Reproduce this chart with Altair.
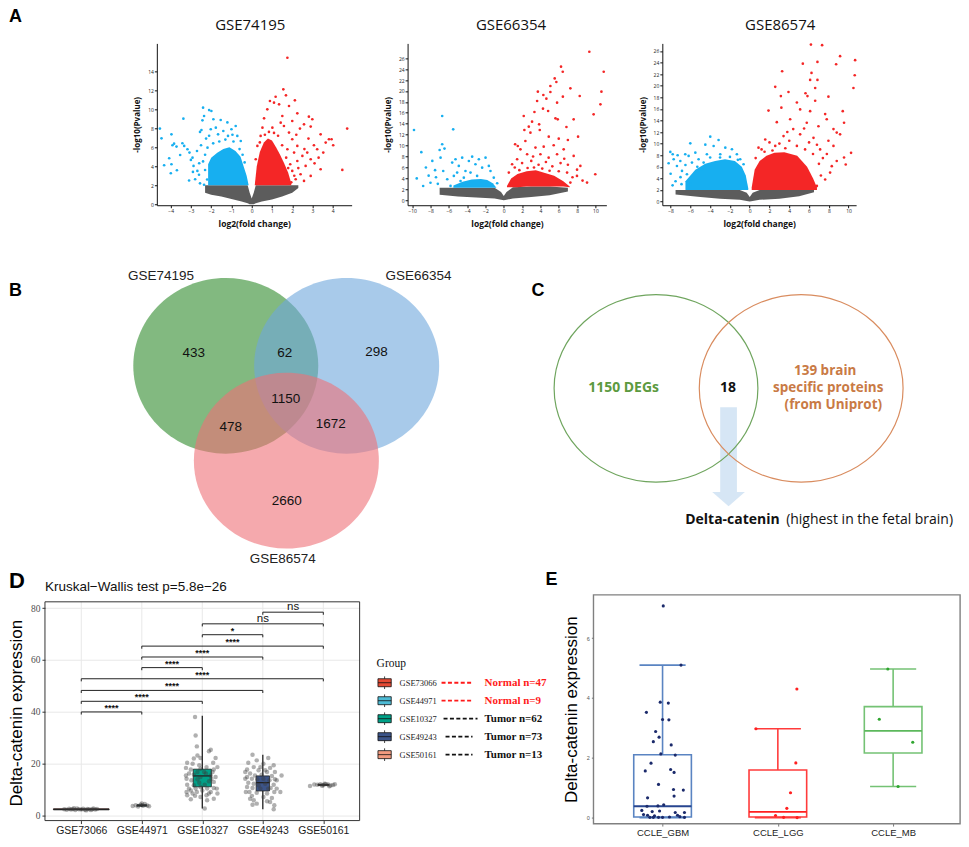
import altair as alt
import pandas as pd

SANS = "Liberation Sans"
OPEN = "Open Sans"
SERIF = "Liberation Serif"
BLUE = "#17aff0"
RED = "#f42626"
NSCOL = "#4a4a4a"

# ================= Panel A: volcano plots (log2FC, -log10 P) =================
V1_BLUE = [(-4.53,7.95),(-4.45,6.93),(-3.96,7.35),(-3.91,6.2),(-3.83,6.37),(-3.71,6.06),(-4.07,4.83),
           (-4.32,4.1),(-3.96,4.2),(-3.99,3.26),(-3.69,3.57),(-3.53,5.18),(-3.42,6.41),(-3.37,9.0),
           (-3.33,6.13),(-3.17,5.78),(-3.07,5.43),(-3.0,4.66),(-2.92,4.9),(-2.87,4.03),(-3.09,2.49),
           (-2.79,2.63),(-2.68,3.5),(-2.59,4.31),(-2.55,7.6),(-2.48,7.8),(-2.43,8.82),(-2.40,10.15),
           (-2.35,9.28),(-2.25,6.9),(-2.18,5.95),(-2.10,9.9),(-1.99,9.8),(-1.89,8.93),(-2.02,7.88),
           (-1.77,8.05),(-1.53,8.86),(-1.66,7.35),(-1.40,7.7),(-1.17,7.18),(-1.0,7.88),(-0.79,8.23),
           (-0.71,7.18),(-0.54,6.65),(-2.55,2.2),(-2.35,2.05),(-2.3,5.2),(-2.4,4.5),(-2.6,3.1),
           (-2.3,3.6),(-2.2,2.6),(-1.9,6.4),(-1.6,6.6),(-1.3,6.8),(-0.9,6.6),(-0.6,5.8),(-0.45,5.2),
           (-0.35,4.4),(-2.7,5.6),(-2.5,6.2),(-2.9,3.4),(-2.1,7.2),(-1.2,8.6),(-0.95,7.3)]
V1_RED = [(1.76,15.4),(1.56,12.08),(1.69,11.45),(1.18,11.3),(2.13,10.92),(0.90,10.85),(1.10,10.68),
          (1.35,10.5),(1.84,10.33),(0.77,9.98),(2.25,9.56),(2.82,9.21),(2.99,8.93),(0.61,9.03),
          (1.51,9.28),(2.0,8.75),(2.58,8.4),(2.91,8.16),(2.38,7.95),(4.71,7.95),(3.40,7.35),(3.81,6.83),
          (3.94,6.83),(3.65,6.48),(4.02,6.2),(3.07,6.2),(3.23,5.78),(2.74,5.43),(3.53,5.43),(2.50,5.08),
          (2.91,4.73),(2.25,4.55),(2.66,4.03),(3.40,3.68),(4.47,3.61),(2.0,3.5),(2.41,3.15),(2.91,2.98),
          (2.17,2.63),(2.58,2.45),(1.84,7.53),(1.59,8.23),(2.0,6.83),(2.25,6.13),(1.76,5.78),(2.09,5.43),
          (1.43,8.58),(1.02,8.05),(0.53,8.05),(0.44,7.18),(0.28,6.13),(0.20,4.73),(1.9,4.2),(2.1,3.0),
          (1.95,2.3),(1.7,4.9),(1.5,6.2),(1.3,7.2),(1.1,7.5),(0.85,7.6),(0.65,7.3),(0.4,6.5),(1.6,3.2),
          (1.8,3.8),(2.3,3.8),(2.6,5.8),(3.1,4.3),(2.8,6.9),(3.3,4.9),(2.2,7.3)]
# dense cores: x, upper edge, lower edge
V1_CORE_BLUE = ([-2.15,-2.0,-1.7,-1.4,-1.1,-0.8,-0.55,-0.4,-0.25,-0.15],
                [4.2,4.9,5.4,5.8,6.0,5.6,5.0,4.0,3.0,2.0],
                [2.0,2.0,2.0,2.0,2.0,2.0,2.0,2.0,2.0,2.0])
V1_CORE_RED = ([0.15,0.25,0.4,0.6,0.8,1.0,1.2,1.4,1.6,1.8,1.95],
               [2.0,4.0,5.5,6.5,6.9,6.7,6.0,5.2,4.3,3.3,2.2],
               [2.0,2.0,2.0,2.0,2.0,2.0,2.0,2.0,2.0,2.0,2.0])
V1_CORE_NS = ([-2.3,-2.0,-1.5,-1.0,-0.5,-0.2,-0.1,0.0,0.1,0.2,0.5,1.0,1.5,2.0,2.3],
              [2.0,2.0,2.0,2.0,2.0,2.0,1.2,0.6,1.2,2.0,2.0,2.0,2.0,2.0,2.0],
              [1.2,1.0,0.8,0.55,0.3,0.1,0.0,0.0,0.0,0.1,0.3,0.5,0.8,1.2,1.7])

V2_BLUE = [(-6.72,15.42),(-5.52,12.98),(-6.72,10.24),(-6.47,9.45),(-6.9,7.8),(-6.61,5.36),(-6.17,3.84),
           (-5.63,6.89),(-5.27,7.5),(-4.91,6.28),(-4.54,7.8),(-4.18,5.36),(-3.81,7.19),(-3.45,7.98),
           (-3.63,5.06),(-3.09,6.58),(-2.72,7.5),(-2.36,5.97),(-1.99,7.8),(-1.63,6.28),(-1.45,5.36),
           (-5.45,4.45),(-4.72,3.53),(-5.81,2.62),(-5.09,5.06),(-2.91,4.45),(-4.36,4.14),(-1.09,4.14),
           (-0.72,3.11),(-9.8,12.85),(-9.0,8.8),(-8.5,6.0),(-8.2,4.5),(-7.8,7.2),(-7.5,5.5),(-7.2,3.0),
           (-8.8,2.6),(-7.0,9.2),(-9.5,4.0),(-8.0,3.2),(-7.4,4.2)]
V2_RED = [(9.34,27.18),(6.25,24.44),(6.44,23.52),(10.91,23.52),(5.56,22.3),(5.74,21.63),(5.09,20.9),
          (7.27,20.48),(3.72,19.87),(5.09,19.8),(10.66,19.87),(6.45,18.95),(4.32,19.26),(8.29,19.07),
          (3.64,18.16),(4.65,18.59),(5.82,17.86),(10.55,17.55),(4.28,16.76),(4.84,16.33),(3.35,16.15),
          (2.18,15.42),(9.81,15.72),(5.64,14.99),(5.89,14.81),(3.09,14.38),(7.63,14.81),(3.86,13.89),
          (2.73,13.47),(2.25,12.86),(6.84,13.41),(2.91,12.37),(3.93,12.86),(7.0,11.03),(4.91,11.64),
          (6.0,11.27),(8.11,11.64),(2.36,10.85),(1.53,9.93),(1.24,10.24),(1.82,9.32),(3.46,9.63),
          (4.36,9.81),(5.45,10.06),(6.54,9.32),(2.55,8.41),(4.0,8.41),(5.82,8.41),(7.63,8.11),(8.36,6.28),
          (9.99,4.75),(9.09,3.23),(7.99,4.45),(7.27,3.23),(6.91,5.06),(1.46,7.5),(0.91,6.58),(0.55,5.06),
          (1.2,6.0),(2.0,6.8),(3.0,7.2),(3.8,6.5),(4.6,7.0),(5.3,6.2),(6.2,6.8),(7.0,6.5),(2.6,5.9),
          (4.2,5.8),(5.0,5.4),(6.0,5.3),(7.5,4.2),(8.6,3.6),(3.3,6.0),(1.7,5.5),(8.0,5.6),(6.6,7.6),
          (4.9,7.8),(3.2,8.0)]
V2_CORE_BLUE = ([-5.5,-4.5,-3.5,-2.5,-1.8,-1.2,-0.8],
                [2.7,3.4,3.8,3.9,3.7,3.1,2.3],
                [2.3,2.3,2.3,2.3,2.3,2.3,2.3])
V2_CORE_RED = ([0.35,0.8,1.5,2.5,3.5,4.5,5.5,6.5,7.2],
               [2.6,4.0,4.8,5.3,5.5,5.0,4.5,3.5,2.5],
               [2.4,2.4,2.4,2.5,2.5,2.5,2.5,2.5,2.4])
V2_CORE_NS = ([-7.0,-5.0,-3.0,-1.0,-0.3,0.0,0.3,1.0,3.0,5.0,7.0],
              [2.3,2.3,2.3,2.3,1.5,0.8,1.5,2.4,2.5,2.5,2.3],
              [1.0,0.7,0.5,0.3,0.1,0.0,0.1,0.3,0.6,0.9,1.6])

V3_BLUE = [(-8.03,8.56),(-7.79,8.16),(-7.69,7.29),(-8.2,6.6),(-7.36,6.14),(-7.29,7.98),(-7.02,7.0),
           (-6.52,8.16),(-6.18,7.87),(-6.01,10.05),(-6.85,5.28),(-6.35,4.71),(-5.84,6.72),(-5.5,8.44),
           (-5.17,7.29),(-3.99,11.2),(-3.15,10.63),(-4.49,9.82),(-3.65,9.59),(-2.47,9.3),(-1.80,9.02),
           (-1.30,8.16),(-2.98,8.16),(-4.33,8.16),(-0.96,7.29),(-0.62,6.43),(-4.66,6.72),(-4.83,5.57),
           (-7.5,3.5),(-7.0,4.2),(-8.0,4.8),(-7.8,2.8),(-6.9,3.0),(-6.5,6.3),(-5.3,6.0),(-4.0,7.6),
           (-3.0,7.6),(-2.0,7.7),(-1.2,7.2),(-6.0,3.0)]
V3_RED = [(6.19,27.1),(7.32,27.0),(9.14,25.1),(10.66,24.4),(5.37,23.8),(6.85,24.1),(8.74,23.7),
          (3.28,22.5),(6.25,22.2),(10.62,21.8),(6.11,21.0),(6.85,21.0),(2.58,19.8),(10.49,19.6),
          (3.92,18.9),(5.64,18.7),(6.62,19.6),(5.84,18.2),(7.96,18.1),(3.15,18.2),(4.77,17.1),(6.62,17.4),
          (1.9,15.7),(3.2,16.2),(5.1,15.9),(6.11,15.6),(7.63,15.1),(9.41,15.6),(9.54,13.6),(7.79,14.2),
          (2.74,13.7),(4.09,14.2),(5.77,13.6),(6.95,13.0),(8.47,12.5),(8.8,11.9),(9.14,11.6),(1.57,10.7),
          (3.42,11.3),(5.1,11.6),(6.45,11.0),(7.96,10.5),(8.47,9.6),(0.89,9.3),(2.58,9.6),(4.77,9.6),
          (7.12,9.0),(10.25,8.4),(9.54,7.6),(9.71,6.4),(8.3,6.1),(8.13,5.0),(7.63,3.8),(6.79,2.7),
          (1.2,9.0),(2.0,10.2),(3.0,10.0),(4.0,10.5),(4.4,12.5),(5.5,12.6),(6.0,10.2),(6.8,9.8),(7.4,7.5),
          (7.0,6.5),(7.8,8.2),(3.6,9.2),(2.3,8.8),(5.6,9.0),(6.4,8.2),(8.8,7.0),(7.2,4.5),(0.6,7.5),
          (1.5,8.6),(3.8,12.0)]
V3_CORE_BLUE = ([-6.5,-5.5,-4.5,-3.5,-2.5,-1.5,-0.8,-0.4,-0.15],
                [3.5,5.5,6.5,7.0,7.3,7.0,6.0,4.5,2.3],
                [2.0,2.0,2.0,2.0,2.0,2.0,2.0,2.0,2.0])
V3_CORE_RED = ([0.2,0.5,1.0,1.7,2.5,3.5,4.8,5.8,6.4,6.8],
               [2.4,5.5,7.0,7.9,8.4,8.5,7.9,6.0,4.0,2.4],
               [2.0,2.0,2.0,2.0,2.0,2.0,2.0,2.0,2.0,2.0])
V3_CORE_NS = ([-7.5,-5.0,-3.0,-1.0,-0.3,0.0,0.3,1.0,3.0,5.0,6.5],
              [2.0,2.0,2.0,2.0,1.5,0.8,1.5,2.0,2.0,2.0,2.0],
              [1.2,0.8,0.5,0.3,0.1,0.0,0.1,0.3,0.5,0.9,1.6])

# ================= Panel B / C: Venn diagrams =================
VENN_B_SETS = ["GSE74195", "GSE66354", "GSE86574"]
VENN_B_CX = [0.0, 1.307, 0.655]
VENN_B_CY = [0.0, 0.0, -1.08]
VENN_B_SET_LX = [-0.70, 2.084, 0.616]
VENN_B_SET_LY = [1.02, 1.02, -2.20]
VENN_B_COUNTS = ["433", "62", "298", "1150", "478", "1672", "2660"]
VENN_B_CNT_X = [-0.346, 0.637, 1.63, 0.648, 0.054, 1.134, 0.659]
VENN_B_CNT_Y = [0.144, 0.144, 0.156, -0.378, -0.697, -0.662, -1.54]

VENN_C_SETS = ["DEGs", "Uniprot"]
VENN_C_CX = [0.0, 1.4245]
VENN_C_CY = [0.0, 0.0]

# ================= Panel D: boxplots =================
D_GROUPS = ["GSE73066", "GSE44971", "GSE10327", "GSE49243", "GSE50161"]
D_KIND = ["Normal", "Normal", "Tumor", "Tumor", "Tumor"]
D_N = [47, 9, 62, 73, 13]
D_Q1 = [2.1, 3.5, 11.0, 9.4, 11.5]
D_MED = [2.3, 3.8, 15.2, 12.6, 11.8]
D_Q3 = [2.5, 4.1, 17.8, 15.2, 12.0]
D_WLO = [1.9, 3.2, 2.6, 2.3, 11.2]
D_WHI = [2.7, 4.6, 38.4, 23.4, 12.2]
D_PTS_73066 = [(-0.28,2.3),(-0.24,2.1),(-0.2,2.5),(-0.17,2.2),(-0.14,2.4),(-0.1,2.0),(-0.07,2.6),(-0.04,2.3),
               (0.0,2.2),(0.03,2.5),(0.06,2.1),(0.1,2.4),(0.13,2.3),(0.16,2.0),(0.2,2.6),(0.23,2.2),
               (0.26,2.4),(-0.12,2.7),(0.08,1.9),(0.18,2.3)]
D_PTS_44971 = [(-0.15,3.6),(-0.1,3.9),(-0.06,3.4),(-0.02,4.1),(0.02,3.7),(0.05,4.4),(0.09,3.8),(0.12,3.5),(0.0,4.6)]
D_PTS_10327 = [(-0.12,37.9),(-0.11,30.8),(-0.09,26.6),(0.14,25.3),(0.11,24.7),(-0.08,23.1),(-0.25,20.3),
               (-0.16,19.9),(0.18,20.3),(-0.27,18.3),(-0.19,17.7),(-0.03,18.0),(0.19,17.7),(-0.22,16.1),
               (-0.14,15.7),(0.06,16.1),(0.14,15.4),(0.22,14.8),(-0.26,14.1),(-0.18,13.5),(-0.08,13.9),
               (0.11,13.1),(0.19,12.9),(-0.25,11.8),(-0.14,11.6),(-0.03,10.9),(0.08,10.3),(0.19,10.5),
               (-0.19,9.6),(-0.09,9.0),(0.14,9.0),(-0.25,7.7),(-0.16,8.4),(0.07,7.7),(0.19,6.4),(-0.19,6.2),
               (-0.03,7.1),(0.04,2.6),(-0.27,15.4),(-0.03,14.8),(0.03,16.7),(-0.05,19.3),(0.25,18.6),
               (0.24,10.3),(-0.11,10.3),(0.11,8.4),(0.0,9.6),(-0.22,10.3),(0.07,18.6),(-0.08,16.7),
               (0.17,16.7),(-0.14,21.9),(0.15,14.1),(-0.05,12.6),(0.04,11.8),(-0.26,9.0),(0.25,8.4),
               (-0.12,7.5),(0.08,5.8),(-0.03,22.1),(0.22,22.1)]
D_PTS_49243 = [(-0.17,23.4),(0.09,22.1),(-0.10,21.2),(0.18,19.3),(-0.24,20.3),(0.01,19.9),(-0.15,18.6),
               (0.12,18.3),(-0.26,17.7),(-0.07,17.4),(0.07,16.7),(0.2,16.7),(-0.21,16.1),(-0.13,15.4),
               (-0.02,15.7),(0.15,15.2),(-0.26,14.8),(-0.18,14.1),(-0.09,13.9),(0.11,13.5),(0.2,13.9),
               (-0.24,12.6),(-0.15,12.2),(0.04,12.2),(0.18,11.8),(-0.26,10.9),(-0.17,10.5),(-0.04,10.3),
               (0.13,10.5),(0.23,10.3),(-0.22,9.0),(-0.1,8.7),(0.07,8.4),(0.19,9.0),(-0.18,7.5),(0.01,7.1),
               (0.15,6.7),(-0.15,5.8),(0.07,5.4),(-0.1,4.5),(0.19,3.9),(-0.17,4.1),(0.18,2.3),(-0.29,14.1),
               (0.01,14.1),(0.31,15.4),(-0.04,18.6),(-0.28,9.0),(0.29,9.0),(-0.07,11.6),(0.09,10.3),
               (-0.29,16.7),(0.04,17.4),(0.23,13.5),(-0.21,6.4),(0.12,5.1)]
D_PTS_50161 = [(-0.22,11.3),(-0.1,11.8),(-0.05,12.0),(0.0,11.6),(0.04,12.1),(0.08,11.9),(0.12,11.5),
               (0.16,11.7),(0.19,12.0),(-0.15,11.9),(0.02,12.2),(0.1,11.2),(-0.02,11.4)]
D_BRACKETS = [(1,2,39.9,"****"),(1,3,44.0,"****"),(1,4,48.2,"****"),(1,5,52.7,"****"),(2,3,57.0,"****"),
              (2,4,61.1,"****"),(2,5,65.3,"****"),(3,4,69.7,"*"),(3,5,73.9,"ns"),(4,5,78.4,"ns")]

# ================= Panel E: CCLE boxplots =================
E_GROUPS = ["CCLE_GBM", "CCLE_LGG", "CCLE_MB"]
E_Q1 = [0.02, 0.02, 2.16]
E_MED = [0.38, 0.19, 2.9]
E_Q3 = [2.1, 1.59, 3.71]
E_WLO = [0.0, 0.0, 1.04]
E_WHI = [5.1, 2.97, 4.97]
E_PTS_GBM = [(0.006,7.08),(0.16,5.1),(-0.02,3.86),(0.05,3.83),(-0.14,3.52),(0.0,3.28),(0.055,3.27),
             (-0.06,2.88),(-0.03,2.69),(-0.08,2.54),(0.075,2.43),(-0.015,2.13),(0.11,2.09),(-0.10,1.82),
             (0.07,1.61),(-0.15,1.56),(0.10,1.51),(-0.035,1.11),(0.095,0.94),(0.18,0.92),(0.10,0.72),
             (-0.13,0.66),(-0.135,0.38),(-0.04,0.39),(0.01,0.43),(-0.18,0.24),(-0.09,0.2),(-0.026,0.22),
             (0.11,0.17),(0.19,0.17),(-0.165,0.1),(-0.13,0.08),(-0.07,0.06),(0.13,0.08),(-0.11,0.01),
             (-0.08,0.01),(-0.035,0.01),(0.0,0.01),(0.06,0.02),(0.15,0.03),(0.19,0.01)]
E_PTS_LGG = [(-0.19,2.97),(0.165,4.3),(0.156,1.83),(0.11,0.83),(0.078,0.31),(-0.02,0.07),(0.05,0.01),(0.167,0.0)]
E_PTS_MB = [(-0.046,4.97),(-0.12,3.29),(0.17,2.52),(0.043,1.04)]

# ----------------- styles -----------------
VENN_B_FILLS = ["#2f8a2b", "#6ea6dc", "#ef6f76"]
VENN_C_STROKES = ["#6fa55e", "#d98c5f"]
D_COLORS = ["#E64B35", "#4DBBD5", "#00A087", "#3C5488", "#F39B7F"]
E_STROKES = ["#5a84c2", "#ff3b3b", "#74c274"]
E_MEDIANS = ["#27458f", "#ff2020", "#5cb85c"]
E_DOTS = ["#1b2a6b", "#ff2020", "#2fa52f"]
D_BOX_HALF = [0.46, 0.08, 0.15, 0.11, 0.09]
ELLIPSE_B = "M -1 0 A 1 0.95 0 1 1 1 0 A 1 0.95 0 1 1 -1 0 Z"
ELLIPSE_C = "M -1 0 A 1 0.92 0 1 1 1 0 A 1 0.92 0 1 1 -1 0 Z"
ARROW_HEAD = "M -1 -0.44 L 1 -0.44 L 0 0.44 Z"
BOX_KEY = "M -1 -0.6 L 1 -0.6 L 1 0.6 L -1 0.6 Z M -1 0 L 1 0 M 0 -0.6 L 0 -0.95 M 0 0.6 L 0 0.95"
GAP = 28          # invisible layout guides above / below each row
RESOLVE = dict(color="independent", fill="independent", stroke="independent")


def pairs_df(p):
    return pd.DataFrame(p, columns=["x", "y"])


def area_df(a):
    return pd.DataFrame({"x": a[0], "y": a[1], "y2": a[2]})


def letter(ch, px, py, size=18):
    return alt.Chart(pd.DataFrame({"t": [ch]})).mark_text(
        font=SANS, fontSize=size, fontWeight="bold", align="left", baseline="top", color="#000"
    ).encode(x=alt.value(px), y=alt.value(py), text="t:N")


def guide(py, px=-36):
    # invisible layout guide that fixes the vertical extent of a row
    return alt.Chart(pd.DataFrame({"t": [0]})).mark_rule(opacity=0, strokeWidth=1).encode(
        x=alt.value(px), x2=alt.value(px + 1), y=alt.value(py))


def volcano(title, tdx, xdom, ydom, xticks, yticks, w, h, blue, red, cb, cr, cn):
    X = alt.X("x:Q", scale=alt.Scale(domain=xdom, nice=False, zero=False),
              axis=alt.Axis(values=xticks, title="log2(fold change)", grid=False, labelFont=OPEN,
                            labelFontSize=5, labelColor="#222", labelPadding=1, labelFlush=False,
                            labelOverlap=False, tickSize=2.5, tickColor="#111", domainColor="#111",
                            titleFont=OPEN, titleFontSize=8.5, titleFontWeight="bold",
                            titleColor="#111", titlePadding=6))
    Y = alt.Y("y:Q", scale=alt.Scale(domain=ydom, nice=False, zero=False),
              axis=alt.Axis(values=yticks, title="-log10(Pvalue)", grid=False, labelFont=OPEN,
                            labelFontSize=5, labelColor="#222", labelPadding=1, labelFlush=False,
                            labelOverlap=False, tickSize=2.5, tickColor="#111", domainColor="#111",
                            titleFont=OPEN, titleFontSize=8, titleFontWeight="bold",
                            titleColor="#111", titlePadding=6))
    Y2 = alt.Y2("y2:Q")
    layers = [
        alt.Chart(area_df(cn)).mark_area(color=NSCOL, opacity=0.9).encode(X, Y, Y2),
        alt.Chart(area_df(cb)).mark_area(color=BLUE).encode(X, Y, Y2),
        alt.Chart(area_df(cr)).mark_area(color=RED).encode(X, Y, Y2),
        alt.Chart(pairs_df(blue)).mark_circle(size=7, color=BLUE, opacity=1).encode(X, Y),
        alt.Chart(pairs_df(red)).mark_circle(size=7, color=RED, opacity=1).encode(X, Y),
    ]
    return alt.layer(*layers).properties(
        width=w, height=h,
        title=alt.TitleParams(title, font=OPEN, fontSize=15, fontWeight="normal", color="#111",
                              offset=10, dx=tdx))


H1 = 162
spacerA = alt.layer(letter("A", -36, -35), guide(H1 + GAP)).properties(width=56, height=H1)
v1 = volcano("GSE74195", -4, [-4.68, 4.93], [-0.105, 16.91], list(range(-4, 5)), list(range(0, 15, 2)),
             195, H1, V1_BLUE, V1_RED, V1_CORE_BLUE, V1_CORE_RED, V1_CORE_NS)
v2 = volcano("GSE66354", 4, [-10.5, 11.2], [-0.91, 28.7], list(range(-10, 11, 2)), list(range(0, 27, 2)),
             199, H1, V2_BLUE, V2_RED, V2_CORE_BLUE, V2_CORE_RED, V2_CORE_NS)
v3 = volcano("GSE86574", 21, [-8.84, 10.76], [-0.64, 27.3], list(range(-8, 11, 2)), list(range(0, 27, 2)),
             194, H1, V3_BLUE, V3_RED, V3_CORE_BLUE, V3_CORE_RED, V3_CORE_NS)
row1 = alt.hconcat(spacerA, v1, v2, v3, spacing=56, bounds="flush").resolve_scale(**RESOLVE)

# ----------------- B -----------------
H2 = 278
XB = alt.X("x:Q", scale=alt.Scale(domain=[-1.955, 2.646], nice=False, zero=False), axis=None)
YB = alt.Y("y:Q", scale=alt.Scale(domain=[-1.969, 1.19], nice=False, zero=False), axis=None)
b_circ = alt.Chart(pd.DataFrame({"s": VENN_B_SETS, "x": VENN_B_CX, "y": VENN_B_CY})).mark_point(
    shape=ELLIPSE_B, size=34299, filled=True, opacity=0.6, strokeWidth=0
).encode(XB, YB, color=alt.Color("s:N", scale=alt.Scale(domain=VENN_B_SETS, range=VENN_B_FILLS), legend=None))
b_sets = alt.Chart(pd.DataFrame({"t": VENN_B_SETS, "x": VENN_B_SET_LX, "y": VENN_B_SET_LY})).mark_text(
    font=SANS, fontSize=13.5, color="#222").encode(XB, YB, text="t:N")
b_cnt = alt.Chart(pd.DataFrame({"t": VENN_B_COUNTS, "x": VENN_B_CNT_X, "y": VENN_B_CNT_Y})).mark_text(
    font=SANS, fontSize=13.5, color="#111").encode(XB, YB, text="t:N")
chartB = alt.layer(b_circ, b_sets, b_cnt, letter("B", -36, 21), guide(-GAP), guide(H2 + GAP)).properties(
    width=426, height=H2)

# ----------------- C -----------------
XC = alt.X("x:Q", scale=alt.Scale(domain=[-1.330, 2.983], nice=False, zero=False), axis=None)
YC = alt.Y("y:Q", scale=alt.Scale(domain=[-1.603, 1.354], nice=False, zero=False), axis=None)
c_arrow = alt.Chart(pd.DataFrame({"x": [0.630], "x2": [0.794], "y": [-0.202], "y2": [-1.103]})).mark_rect(
    color="#d6e6f5").encode(XC, alt.X2("x2:Q"), YC, alt.Y2("y2:Q"))
c_head = alt.Chart(pd.DataFrame({"x": [0.712], "y": [-1.18]})).mark_point(
    shape=ARROW_HEAD, size=1063, filled=True, color="#d6e6f5", opacity=1, strokeWidth=0).encode(XC, YC)
c_circ = alt.Chart(pd.DataFrame({"s": VENN_C_SETS, "x": VENN_C_CX, "y": VENN_C_CY})).mark_point(
    shape=ELLIPSE_C, size=41616, filled=False, strokeWidth=1.2, opacity=1
).encode(XC, YC, color=alt.Color("s:N", scale=alt.Scale(domain=VENN_C_SETS, range=VENN_C_STROKES), legend=None))
c_t1 = alt.Chart(pd.DataFrame({"t": ["1150 DEGs"], "x": [-0.318], "y": [0.0]})).mark_text(
    font=OPEN, fontSize=14, fontWeight="bold", color="#5c9a40").encode(XC, YC, text="t:N")
c_t2 = alt.Chart(pd.DataFrame({"t": ["18"], "x": [0.706], "y": [0.0]})).mark_text(
    font=OPEN, fontSize=14, fontWeight="bold", color="#111").encode(XC, YC, text="t:N")
c_t3 = alt.Chart(pd.DataFrame({"t": ["139 brain", "specific proteins", "(from Uniprot)"],
                               "x": [1.66, 1.69, 1.74], "y": [0.184, 0.0, -0.18]})).mark_text(
    font=OPEN, fontSize=13.5, fontWeight="bold", color="#c97a45").encode(XC, YC, text="t:N")
c_t4 = alt.Chart(pd.DataFrame({"t": ["Delta-catenin"], "x": [0.287], "y": [-1.398]})).mark_text(
    font=OPEN, fontSize=14, fontWeight="bold", color="#111", align="left").encode(XC, YC, text="t:N")
c_t5 = alt.Chart(pd.DataFrame({"t": ["(highest in the fetal brain)"], "x": [1.277], "y": [-1.398]})).mark_text(
    font=OPEN, fontSize=14, color="#111", align="left").encode(XC, YC, text="t:N")
chartC = alt.layer(c_arrow, c_head, c_circ, c_t1, c_t2, c_t3, c_t4, c_t5, letter("C", 11, 21)).properties(
    width=440, height=H2)
row2 = alt.hconcat(chartB, chartC, spacing=50, bounds="flush").resolve_scale(**RESOLVE)

# ----------------- D -----------------
H3 = 229
D_XDOM = [0.4, 5.6]
D_YBOT, D_YFRAME, D_YTOP = -2.04, 82.4, 85.1   # frame top sits 7 px below the row top
d_label_expr = "[" + ",".join("'%s'" % g for g in D_GROUPS) + "][datum.value - 1]"
DXS = alt.Scale(domain=D_XDOM, nice=False, zero=False)
DYS = alt.Scale(domain=[D_YBOT, D_YTOP], nice=False, zero=False)
DXA = alt.Axis(values=[1, 2, 3, 4, 5], labelExpr=d_label_expr, title=None, grid=False,
               labelFont=SANS, labelFontSize=10.5, labelColor="#1a1a1a", tickSize=3, tickColor="#333",
               domain=False, labelPadding=2, labelFlush=False)
DYA = alt.Axis(values=[0, 20, 40, 60, 80], title="Delta-catenin expression", grid=True, gridColor="#e8e8e8",
               labelFont=SERIF, labelFontSize=9.5, labelColor="#4d4d4d", tickSize=3, tickColor="#333",
               domain=False, titleFont=SANS, titleFontSize=17, titleFontWeight="normal",
               titleColor="#000", titlePadding=4.5, titleY=118)


def DX(f):
    return alt.X(f, type="quantitative", scale=DXS, axis=DXA)


def DY(f):
    return alt.Y(f, type="quantitative", scale=DYS, axis=DYA)


d_box = pd.DataFrame({"g": D_GROUPS, "q1": D_Q1, "med": D_MED, "q3": D_Q3, "lo": D_WLO, "hi": D_WHI})
d_box["xc"] = range(1, len(D_GROUPS) + 1)
d_box["xa"] = d_box["xc"] - pd.Series(D_BOX_HALF)
d_box["xb"] = d_box["xc"] + pd.Series(D_BOX_HALF)
d_box["gb"] = D_YBOT
d_box["gt"] = D_YFRAME

d_pts_parts = []
for i, p in enumerate([D_PTS_73066, D_PTS_44971, D_PTS_10327, D_PTS_49243, D_PTS_50161]):
    t = pd.DataFrame(p, columns=["dx", "y"])
    t["px"] = (i + 1) + t["dx"]
    d_pts_parts.append(t)
d_pts = pd.concat(d_pts_parts, ignore_index=True)

d_br = pd.DataFrame(D_BRACKETS, columns=["a", "b", "h", "lab"])
d_br["mid"] = (d_br["a"] + d_br["b"]) / 2
d_br["tip"] = d_br["h"] - 1.0
d_br_ast = d_br[d_br["lab"] != "ns"]
d_br_ns = d_br[d_br["lab"] == "ns"]
d_frame_df = pd.DataFrame({"x1": [D_XDOM[0]], "x2": [D_XDOM[1]], "y1": [D_YBOT], "y2": [D_YFRAME]})

d_vgrid = alt.Chart(d_box).mark_rule(color="#e8e8e8", strokeWidth=1).encode(DX("xc"), DY("gb"), alt.Y2("gt"))
d_whisk = alt.Chart(d_box).mark_rule(color="#222", strokeWidth=1.3).encode(DX("xc"), DY("lo"), alt.Y2("hi"))
d_rect = alt.Chart(d_box).mark_rect(stroke="#222", strokeWidth=0.8).encode(
    DX("xa"), alt.X2("xb"), DY("q1"), alt.Y2("q3"),
    fill=alt.Fill("g:N", scale=alt.Scale(domain=D_GROUPS, range=D_COLORS), legend=None))
d_med = alt.Chart(d_box).mark_rule(color="#222", strokeWidth=1.3).encode(DX("xa"), alt.X2("xb"), DY("med"))
d_dots = alt.Chart(d_pts).mark_circle(size=20, color="#3a3a3a", opacity=0.4).encode(DX("px"), DY("y"))
d_hbar = alt.Chart(d_br).mark_rule(color="#222", strokeWidth=1).encode(DX("a"), alt.X2("b"), DY("h"))
d_tipa = alt.Chart(d_br).mark_rule(color="#222", strokeWidth=1).encode(DX("a"), DY("tip"), alt.Y2("h"))
d_tipb = alt.Chart(d_br).mark_rule(color="#222", strokeWidth=1).encode(DX("b"), DY("tip"), alt.Y2("h"))
d_ast = alt.Chart(d_br_ast).mark_text(font=SANS, fontSize=9, fontWeight="bold", color="#111",
                                      baseline="alphabetic", dy=-1).encode(DX("mid"), DY("h"), text="lab:N")
d_ns = alt.Chart(d_br_ns).mark_text(font=SANS, fontSize=11.5, color="#111",
                                    baseline="alphabetic", dy=-2).encode(DX("mid"), DY("h"), text="lab:N")
d_frame = alt.Chart(d_frame_df).mark_rect(filled=False, stroke="#333", strokeWidth=1).encode(
    DX("x1"), alt.X2("x2"), DY("y1"), alt.Y2("y2"))
chartD = alt.layer(d_vgrid, d_whisk, d_rect, d_med, d_dots, d_hbar, d_tipa, d_tipb, d_ast, d_ns,
                   d_frame).properties(
    width=315, height=226,
    title=alt.TitleParams("Kruskal\u2212Wallis test p=5.8e\u221226", anchor="start", frame="group",
                          font=SANS, fontSize=13.5, fontWeight="normal", color="#111", offset=1))

# ----------------- legend of D (also carries the panel letter D) -----------------
leg_df = pd.DataFrame({"g": D_GROUPS, "kind": D_KIND,
                       "note": ["%s n=%d" % (k, n) for k, n in zip(D_KIND, D_N)]})
LY = alt.Y("g:N", scale=alt.Scale(type="point", domain=D_GROUPS, range=[88, 160], padding=0), axis=None)
KCOL = alt.condition(alt.datum.kind == "Normal", alt.value("#ff1a1a"), alt.value("#111111"))
leg_head = alt.Chart(pd.DataFrame({"t": ["Group"]})).mark_text(
    font=SERIF, fontSize=11.5, align="left", baseline="middle", color="#111").encode(
    x=alt.value(7), y=alt.value(69), text="t:N")
leg_key = alt.Chart(leg_df).mark_point(shape=BOX_KEY, size=177, filled=True, stroke="#111",
                                       strokeWidth=0.8, opacity=1).encode(
    x=alt.value(15), y=LY, fill=alt.Fill("g:N", scale=alt.Scale(domain=D_GROUPS, range=D_COLORS), legend=None))
leg_lab = alt.Chart(leg_df).mark_text(font=SERIF, fontSize=8.5, align="left", baseline="middle",
                                      color="#222").encode(x=alt.value(30), y=LY, text="g:N")
leg_dash1 = alt.Chart(leg_df).transform_filter(alt.datum.kind == "Normal").mark_rule(
    strokeWidth=1.8, strokeDash=[4, 2.4]).encode(x=alt.value(72), x2=alt.value(104), y=LY, color=KCOL)
leg_dash2 = alt.Chart(leg_df).transform_filter(alt.datum.g == "GSE10327").mark_rule(
    strokeWidth=1.8, strokeDash=[4, 2.4]).encode(x=alt.value(74), x2=alt.value(108), y=LY, color=KCOL)
leg_dash3 = alt.Chart(leg_df).transform_filter(
    (alt.datum.g == "GSE49243") | (alt.datum.g == "GSE50161")).mark_rule(
    strokeWidth=1.8, strokeDash=[4, 2.4]).encode(x=alt.value(76), x2=alt.value(103), y=LY, color=KCOL)
leg_note = alt.Chart(leg_df).mark_text(font=SERIF, fontSize=11, fontWeight="bold", align="left",
                                       baseline="middle").encode(x=alt.value(115), y=LY, text="note:N", color=KCOL)
chartLeg = alt.layer(leg_head, leg_key, leg_lab, leg_dash1, leg_dash2, leg_dash3, leg_note,
                     letter("D", -361, -24, size=22), guide(-GAP, px=0)).properties(width=214, height=H3)

# ----------------- E -----------------
e_label_expr = "[" + ",".join("'%s'" % g for g in E_GROUPS) + "][datum.value - 1]"
EXS = alt.Scale(domain=[0.4, 3.58], nice=False, zero=False)
EYS = alt.Scale(domain=[-0.2, 7.45], nice=False, zero=False)
EXA = alt.Axis(values=[1, 2, 3], labelExpr=e_label_expr, title=None, grid=False, labelFont=SANS,
               labelFontSize=9.5, labelColor="#222", tickSize=2.5, tickColor="#777", domain=False,
               labelPadding=1.5, labelFlush=False)
EYA = alt.Axis(values=[0, 2, 4, 6], title="Delta-catenin expression", grid=False, labelFont=SANS,
               labelFontSize=5.5, labelColor="#555", tickSize=2, tickColor="#777", domain=False,
               titleFont=SANS, titleFontSize=17, titleFontWeight="normal", titleColor="#000", titlePadding=6)


def EX(f):
    return alt.X(f, type="quantitative", scale=EXS, axis=EXA)


def EY(f):
    return alt.Y(f, type="quantitative", scale=EYS, axis=EYA)


e_box = pd.DataFrame({"g": E_GROUPS, "q1": E_Q1, "med": E_MED, "q3": E_Q3, "lo": E_WLO, "hi": E_WHI})
e_box["xc"] = range(1, len(E_GROUPS) + 1)
e_box["xa"] = e_box["xc"] - 0.25
e_box["xb"] = e_box["xc"] + 0.25
e_box["ca"] = e_box["xc"] - 0.2
e_box["cb"] = e_box["xc"] + 0.2
e_pts_parts = []
for i, p in enumerate([E_PTS_GBM, E_PTS_LGG, E_PTS_MB]):
    t = pd.DataFrame(p, columns=["dx", "y"])
    t["px"] = (i + 1) + t["dx"]
    t["g"] = E_GROUPS[i]
    e_pts_parts.append(t)
e_pts = pd.concat(e_pts_parts, ignore_index=True)

ESTROKE = alt.Stroke("g:N", scale=alt.Scale(domain=E_GROUPS, range=E_STROKES), legend=None)
e_up = alt.Chart(e_box).mark_rule(strokeWidth=1.6).encode(EX("xc"), EY("q3"), alt.Y2("hi"), stroke=ESTROKE)
e_dn = alt.Chart(e_box).mark_rule(strokeWidth=1.6).encode(EX("xc"), EY("lo"), alt.Y2("q1"), stroke=ESTROKE)
e_cap1 = alt.Chart(e_box).mark_rule(strokeWidth=1.6).encode(EX("ca"), alt.X2("cb"), EY("hi"), stroke=ESTROKE)
e_cap2 = alt.Chart(e_box).mark_rule(strokeWidth=1.6).encode(EX("ca"), alt.X2("cb"), EY("lo"), stroke=ESTROKE)
e_rect = alt.Chart(e_box).mark_rect(fillOpacity=0, strokeWidth=1.6).encode(
    EX("xa"), alt.X2("xb"), EY("q1"), alt.Y2("q3"), stroke=ESTROKE)
e_med = alt.Chart(e_box).mark_rule(strokeWidth=1.8).encode(
    EX("xa"), alt.X2("xb"), EY("med"),
    color=alt.Color("g:N", scale=alt.Scale(domain=E_GROUPS, range=E_MEDIANS), legend=None))
e_dots = alt.Chart(e_pts).mark_circle(size=10, opacity=1).encode(
    EX("px"), EY("y"), fill=alt.Fill("g:N", scale=alt.Scale(domain=E_GROUPS, range=E_DOTS), legend=None))
chartE = alt.layer(e_up, e_dn, e_cap1, e_cap2, e_rect, e_med, e_dots, letter("E", -48, -24)).properties(
    width=367, height=H3, view=alt.ViewBackground(stroke="#808080", strokeWidth=1.4))

row3 = alt.hconcat(chartD, chartLeg, chartE, spacing=10, bounds="flush").resolve_scale(**RESOLVE)

chart = alt.vconcat(row1, row2, row3, spacing=0).resolve_scale(**RESOLVE).properties(
    padding=0, background="white").configure_view(stroke=None)

chart.save("out.html", embed_options={"renderer": "svg", "actions": False})
